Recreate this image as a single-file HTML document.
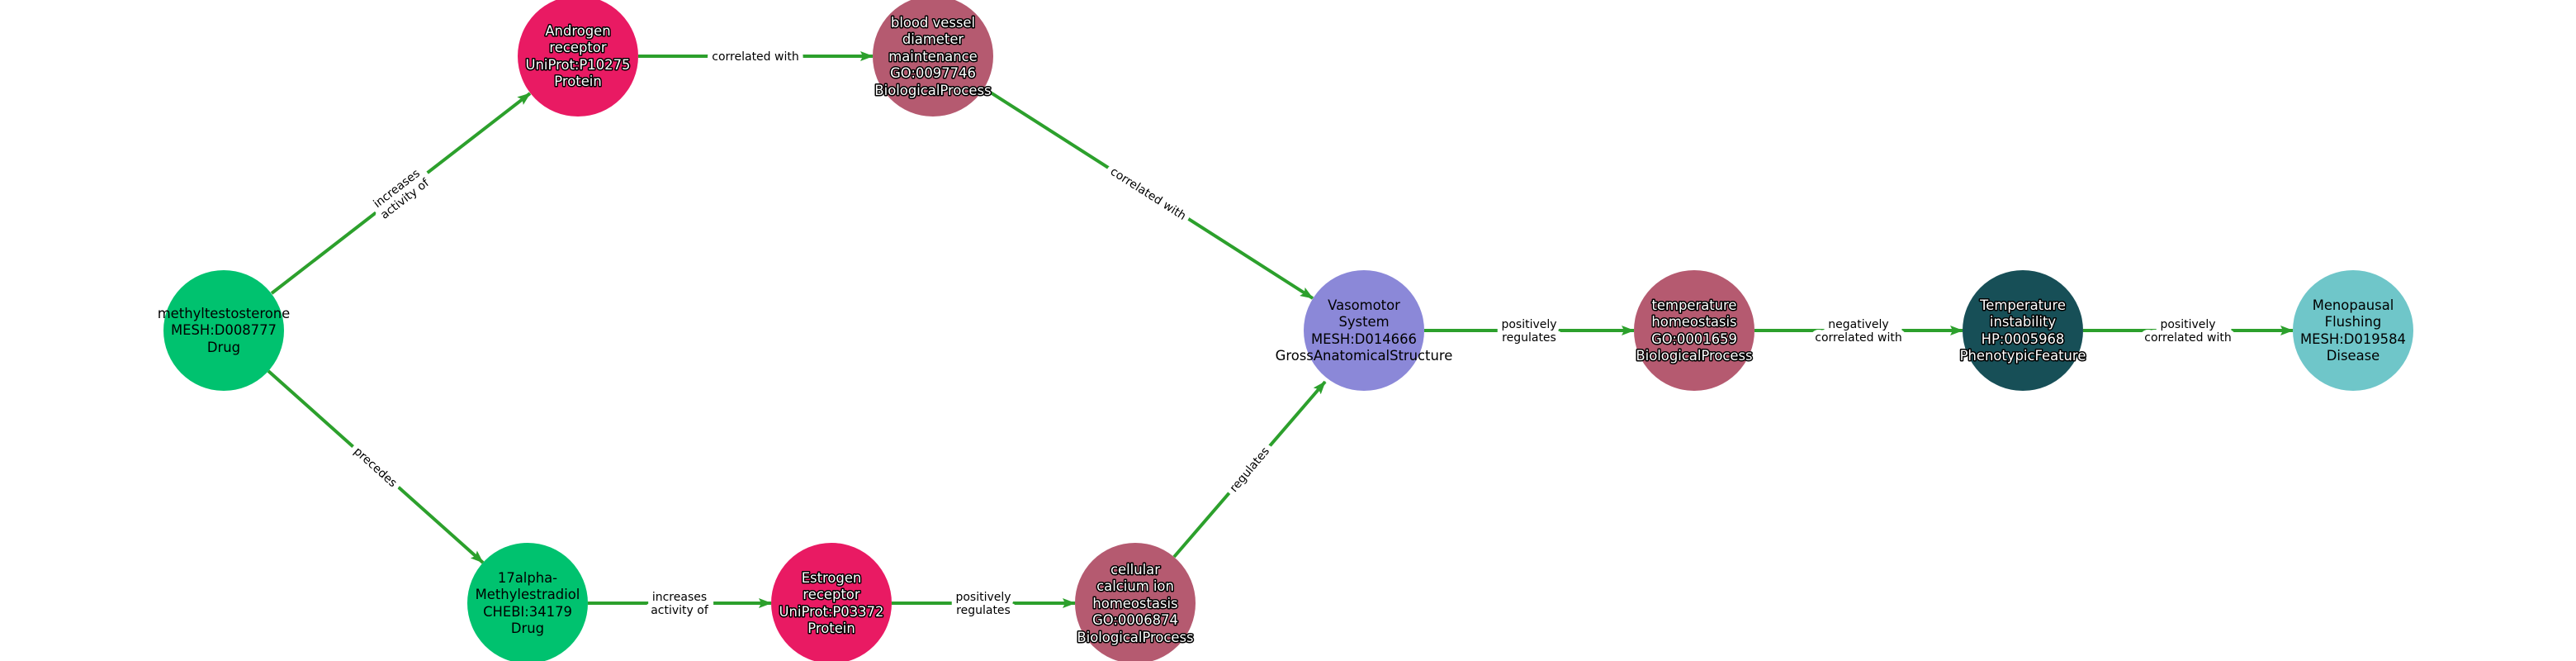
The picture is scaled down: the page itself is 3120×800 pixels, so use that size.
<!DOCTYPE html>
<html><head><meta charset="utf-8"><style>
html,body{margin:0;padding:0;background:#fff;}
svg{display:block;}
.n{font-family:"DejaVu Sans",sans-serif;font-size:16.4px;text-anchor:middle;}
.w{fill:#fff;stroke:#000;stroke-width:3;paint-order:stroke;stroke-linejoin:round;}
.b{fill:#000;}
.e{font-family:"DejaVu Sans",sans-serif;font-size:14px;text-anchor:middle;fill:#000;}
line{stroke:#2ca02c;stroke-width:4;}
</style></head><body>
<svg width="3120" height="800" viewBox="0 0 3120 800" xmlns="http://www.w3.org/2000/svg">
<defs><marker id="a" markerWidth="16" markerHeight="12" refX="15" refY="6" orient="auto" markerUnits="userSpaceOnUse"><path d="M0,0 L16,6 L0,12 L3,6 z" fill="#2ca02c"/></marker>
<g id="labels">
<text class="e" transform="translate(485,234) rotate(-37.7)"><tspan x="0" y="-3">increases</tspan><tspan x="0" y="13">activity of</tspan></text>
<text class="e" transform="translate(455,565) rotate(41.9)"><tspan x="0" y="5">precedes</tspan></text>
<text class="e" x="915" y="73">correlated with</text>
<text class="e" transform="translate(1391,234) rotate(32.5)"><tspan x="0" y="5">correlated with</tspan></text>
<text class="e"><tspan x="823" y="727">increases</tspan><tspan x="823" y="743">activity of</tspan></text>
<text class="e"><tspan x="1191" y="727">positively</tspan><tspan x="1191" y="743">regulates</tspan></text>
<text class="e" transform="translate(1513,568) rotate(-50)"><tspan x="0" y="5">regulates</tspan></text>
<text class="e"><tspan x="1852" y="397">positively</tspan><tspan x="1852" y="413">regulates</tspan></text>
<text class="e"><tspan x="2251" y="397">negatively</tspan><tspan x="2251" y="413">correlated with</tspan></text>
<text class="e"><tspan x="2650" y="397">positively</tspan><tspan x="2650" y="413">correlated with</tspan></text>
</g></defs>
<line x1="329" y1="355" x2="642" y2="113" marker-end="url(#a)"/>
<line x1="325" y1="449" x2="585" y2="681" marker-end="url(#a)"/>
<line x1="773" y1="68" x2="1057" y2="68" marker-end="url(#a)"/>
<line x1="1192" y1="107" x2="1590" y2="361" marker-end="url(#a)"/>
<line x1="712" y1="730" x2="934" y2="730" marker-end="url(#a)"/>
<line x1="1080" y1="730" x2="1302" y2="730" marker-end="url(#a)"/>
<line x1="1422" y1="674" x2="1605" y2="462" marker-end="url(#a)"/>
<line x1="1725" y1="400" x2="1979" y2="400" marker-end="url(#a)"/>
<line x1="2125" y1="400" x2="2377" y2="400" marker-end="url(#a)"/>
<line x1="2523" y1="400" x2="2777" y2="400" marker-end="url(#a)"/>

<g stroke="#fff" stroke-width="12" stroke-linejoin="miter"><use href="#labels"/></g>
<use href="#labels"/>

<circle cx="271" cy="400" r="73" fill="#00c26f"/>
<circle cx="700" cy="68" r="73" fill="#e91a63"/>
<circle cx="1130" cy="68" r="73" fill="#b55a70"/>
<circle cx="639" cy="730" r="73" fill="#00c26f"/>
<circle cx="1007" cy="730" r="73" fill="#e91a63"/>
<circle cx="1375" cy="730" r="73" fill="#b55a70"/>
<circle cx="1652" cy="400" r="73" fill="#8b88d8"/>
<circle cx="2052" cy="400" r="73" fill="#b55a70"/>
<circle cx="2450" cy="400" r="73" fill="#174f57"/>
<circle cx="2850" cy="400" r="73" fill="#6fc6c9"/>

<text class="n b"><tspan x="271" y="385">methyltestosterone</tspan><tspan x="271" y="405">MESH:D008777</tspan><tspan x="271" y="426">Drug</tspan></text>
<text class="n w"><tspan x="700" y="43">Androgen</tspan><tspan x="700" y="63">receptor</tspan><tspan x="700" y="84">UniProt:P10275</tspan><tspan x="700" y="104">Protein</tspan></text>
<text class="n w"><tspan x="1130" y="33">blood vessel</tspan><tspan x="1130" y="53">diameter</tspan><tspan x="1130" y="74">maintenance</tspan><tspan x="1130" y="94">GO:0097746</tspan><tspan x="1130" y="115">BiologicalProcess</tspan></text>
<text class="n b"><tspan x="639" y="705">17alpha-</tspan><tspan x="639" y="725">Methylestradiol</tspan><tspan x="639" y="746">CHEBI:34179</tspan><tspan x="639" y="766">Drug</tspan></text>
<text class="n w"><tspan x="1007" y="705">Estrogen</tspan><tspan x="1007" y="725">receptor</tspan><tspan x="1007" y="746">UniProt:P03372</tspan><tspan x="1007" y="766">Protein</tspan></text>
<text class="n w"><tspan x="1375" y="695">cellular</tspan><tspan x="1375" y="715">calcium ion</tspan><tspan x="1375" y="736">homeostasis</tspan><tspan x="1375" y="756">GO:0006874</tspan><tspan x="1375" y="777">BiologicalProcess</tspan></text>
<text class="n b"><tspan x="1652" y="375">Vasomotor</tspan><tspan x="1652" y="395">System</tspan><tspan x="1652" y="416">MESH:D014666</tspan><tspan x="1652" y="436">GrossAnatomicalStructure</tspan></text>
<text class="n w"><tspan x="2052" y="375">temperature</tspan><tspan x="2052" y="395">homeostasis</tspan><tspan x="2052" y="416">GO:0001659</tspan><tspan x="2052" y="436">BiologicalProcess</tspan></text>
<text class="n w"><tspan x="2450" y="375">Temperature</tspan><tspan x="2450" y="395">instability</tspan><tspan x="2450" y="416">HP:0005968</tspan><tspan x="2450" y="436">PhenotypicFeature</tspan></text>
<text class="n b"><tspan x="2850" y="375">Menopausal</tspan><tspan x="2850" y="395">Flushing</tspan><tspan x="2850" y="416">MESH:D019584</tspan><tspan x="2850" y="436">Disease</tspan></text>
</svg>
</body></html>
